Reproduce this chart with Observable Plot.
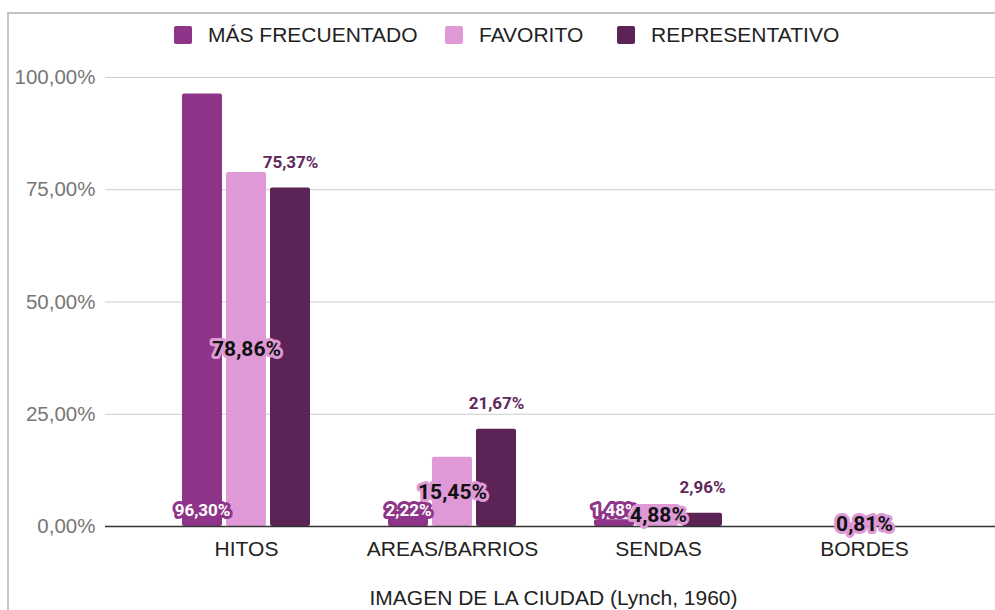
<!DOCTYPE html>
<html>
<head>
<meta charset="utf-8">
<script src="https://cdn.jsdelivr.net/npm/d3@7"></script>
<script src="https://cdn.jsdelivr.net/npm/@observablehq/plot@0.6"></script>
<style>
  html, body { margin: 0; padding: 0; background: #fff; }
  #wrap { position: relative; width: 995px; height: 610px; overflow: hidden; font-family: "Liberation Sans", Arial, sans-serif; }
  #frameLeft { position: absolute; left: 7px; top: 12px; width: 2px; height: 600px; background: #c4c4c4; }
  #frameTop { position: absolute; left: 7px; top: 12px; width: 990px; height: 2px; background: #c4c4c4; }
  #legend { position: absolute; left: 0; top: 0; width: 995px; height: 60px; }
  .item { position: absolute; top: 23px; display: flex; align-items: center; font-size: 21px; color: #222; white-space: nowrap; }
  .sw { width: 18px; height: 18px; border-radius: 2px; margin-right: 16px; }
  #chart { position: absolute; left: 0; top: 60px; }
</style>
</head>
<body>
<div id="wrap">
  <div id="frameLeft"></div>
  <div id="frameTop"></div>
  <div id="legend"></div>
  <div id="chart"></div>
</div>
<script>
const categories = ["HITOS", "AREAS/BARRIOS", "SENDAS", "BORDES"];
const seriesNames = ["MÁS FRECUENTADO", "FAVORITO", "REPRESENTATIVO"];
const seriesColors = ["#8e3589", "#de99d6", "#5c2357"];
const masFrecuentado = [96.30, 2.22, 1.48, 0];
const favorito = [78.86, 15.45, 4.88, 0.81];
const representativo = [75.37, 21.67, 2.96, 0];
const yTicks = [0, 25, 50, 75, 100];
const xTitle = "IMAGEN DE LA CIUDAD (Lynch, 1960)";

const seriesValues = [masFrecuentado, favorito, representativo];
const rows = seriesValues.map((vals, s) => categories.map((c, i) => ({cat: c, series: seriesNames[s], value: vals[i]})));

// legend
const legendX = [174, 445, 617];
const legend = document.getElementById("legend");
seriesNames.forEach((n, i) => {
  const d = document.createElement("div");
  d.className = "item";
  d.style.left = legendX[i] + "px";
  d.innerHTML = `<div class="sw" style="background:${seriesColors[i]}"></div><span>${n}</span>`;
  legend.appendChild(d);
});

const fmt = v => v.toFixed(2).replace(".", ",") + "%";
const slot = 44; // offset between bars within a group
const insets = [[0, 88], [44, 44], [88, 0]];
const dxs = [-slot, 0, slot];

const marks = [
  Plot.gridY(yTicks, {stroke: "#cccccc", strokeOpacity: 1, strokeWidth: 1}),
  Plot.axisY(yTicks, {tickSize: 0, tickPadding: 10, tickFormat: fmt, color: "#777", fontSize: 20.5, label: null}),
  Plot.axisX({tickSize: 0, tickPadding: 15, color: "#222", fontSize: 21, label: null}),
];
rows.forEach((r, s) => {
  marks.push(Plot.barY(r, {x: "cat", y: "value", fill: seriesColors[s], insetLeft: insets[s][0], insetRight: insets[s][1], rx: 2}));
});
marks.push(Plot.ruleY([0], {stroke: "#333", strokeWidth: 1.5}));
// labels
marks.push(Plot.text(rows[0].filter(d => d.value > 0), {
  x: "cat", y: () => 0, dx: dxs[0], dy: -16, text: d => fmt(d.value),
  fill: "white", stroke: "#8e3589", strokeWidth: 6, strokeLinejoin: "round", fontWeight: "bold", fontSize: 17, fontFamily: "Roboto"
}));
marks.push(Plot.text(rows[1].filter(d => d.value > 0), {
  x: "cat", y: d => d.value / 2, dx: dxs[1], text: d => fmt(d.value),
  fill: "#111", stroke: "#de99d6", strokeWidth: 6, strokeLinejoin: "round", fontWeight: "bold", fontSize: 21, fontFamily: "Roboto"
}));
marks.push(Plot.text(rows[2].filter(d => d.value > 0), {
  x: "cat", y: "value", dx: dxs[2], dy: -26, text: d => fmt(d.value),
  fill: "#62285e", fontWeight: "bold", fontSize: 17, fontFamily: "Roboto"
}));
marks.push(Plot.text([xTitle], {frameAnchor: "bottom", dx: 3, dy: 78, fill: "#222", fontSize: 21}));

const chart = Plot.plot({
  width: 995,
  height: 550,
  marginTop: 17,
  marginBottom: 84,
  marginLeft: 105,
  marginRight: 0,
  style: {fontFamily: "'Liberation Sans', Arial, sans-serif", fontSize: "20px", background: "transparent", overflow: "visible"},
  x: {domain: categories, range: [142.7, 967], paddingInner: 0.3786, paddingOuter: 0.1893, label: null},
  y: {domain: [0, 100], label: null},
  marks
});
document.getElementById("chart").appendChild(chart);
</script>
</body>
</html>
